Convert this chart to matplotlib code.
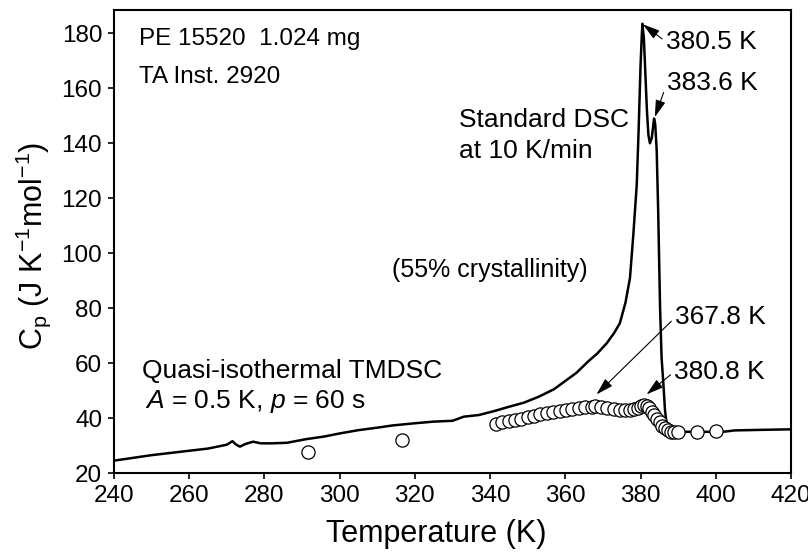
import matplotlib
matplotlib.use("Agg")
import matplotlib.pyplot as plt

plt.rcParams["font.family"] = ["Liberation Sans", "DejaVu Sans"]
plt.rcParams["mathtext.fontset"] = "custom"
plt.rcParams["mathtext.rm"] = "Liberation Sans"
plt.rcParams["mathtext.it"] = "Liberation Sans:italic"

# standard DSC trace, 10 K/min
dsc_T = [240.0, 245.0, 250.0, 255.0, 260.0, 265.0, 270.0, 271.5, 272.5, 273.5,
         275.0, 277.0, 279.0, 282.0, 286.0, 291.0, 296.0, 300.0, 305.0, 310.0,
         314.0, 320.0, 325.0, 330.0, 333.0, 337.0, 341.0, 344.5, 349.0, 353.0,
         357.0, 360.0, 363.0, 366.0, 368.5, 371.0, 373.0, 374.5, 376.0, 377.2,
         378.1, 379.0, 379.5, 380.0, 380.3, 380.5, 380.9, 381.3, 381.7, 382.1,
         382.5, 383.0, 383.6, 383.9, 384.3, 384.7, 385.2, 385.6, 386.1, 386.5,
         387.0, 387.5, 388.5, 392.0, 402.0, 405.0, 412.0, 420.0]
dsc_cp = [24.5, 25.5, 26.5, 27.3, 28.1, 28.9, 30.3, 31.6, 30.3, 29.6,
          30.6, 31.4, 30.8, 30.8, 31.0, 32.3, 33.3, 34.4, 35.6, 36.5,
          37.3, 38.1, 38.7, 39.0, 40.5, 41.1, 42.5, 43.9, 45.6, 47.8,
          50.5, 53.5, 56.5, 60.5, 63.5, 67.2, 71.0, 74.5, 82.0, 91.0,
          107.0, 125.0, 145.0, 168.0, 178.0, 183.5, 178.0, 165.0, 152.0, 143.0,
          140.0, 142.0, 149.0, 147.0, 137.5, 115.0, 80.0, 62.0, 52.0, 43.0,
          37.0, 35.2, 34.8, 35.0, 35.0, 35.5, 35.7, 35.9]

# quasi-isothermal TMDSC points
tm_T = [291.5, 316.5, 341.5, 343.2, 344.9, 346.6, 348.3, 350.0, 351.7, 353.4,
        355.1, 356.8, 358.5, 360.2, 361.9, 363.6, 365.3, 367.0, 367.8, 369.5,
        371.2, 372.9, 374.6, 376.0, 377.2, 378.3, 379.2, 380.0, 380.8, 381.6,
        382.3, 383.0, 383.7, 384.4, 385.1, 385.8, 386.5, 387.2, 388.0, 389.0,
        390.0, 395.0, 400.0]
tm_cp = [27.8, 32.0, 38.0, 38.4, 38.8, 39.3, 39.8, 40.3, 40.8, 41.3,
         41.8, 42.2, 42.6, 43.0, 43.4, 43.8, 44.0, 44.2, 44.3, 44.1,
         43.7, 43.3, 43.0, 42.9, 43.0, 43.3, 43.8, 44.4, 44.8, 44.4,
         43.5, 42.3, 41.0, 39.7, 38.4, 37.2, 36.2, 35.5, 35.0, 34.8,
         34.8, 34.9, 35.4]

# (label, arrow tip, text position)
peak_notes = [
    ("380.5 K", (380.6, 183.3), (386.8, 176.9)),
    ("383.6 K", (383.8, 149.5), (387.0, 161.8)),
    ("367.8 K", (368.3, 48.6), (389.2, 76.6)),
    ("380.8 K", (381.6, 48.6), (389.0, 56.9)),
]

fig = plt.figure(figsize=(8.08, 5.52), dpi=100)
ax = fig.add_axes([0.1411, 0.1431, 0.8378, 0.8388])

ax.plot(dsc_T, dsc_cp, color="black", lw=1.8, zorder=2)
ax.plot(tm_T, tm_cp, "o", ms=9.5, mfc="white", mec="black", mew=0.9, zorder=3)

ax.set_xlim(240, 420)
ax.set_ylim(20, 188.5)
ax.set_xticks(range(240, 421, 20))
ax.set_yticks(range(20, 181, 20))
ax.tick_params(direction="out", length=4.5, width=1.2, labelsize=17.5, pad=4)
for sp in ax.spines.values():
    sp.set_linewidth(1.5)

ax.set_xlabel("Temperature (K)", fontsize=22)
ax.xaxis.set_label_coords(0.476, -0.1)
ax.set_ylabel(r"C$_\mathregular{p}$ (J K$^\mathregular{-1}$mol$^\mathregular{-1}$)", fontsize=22)
ax.yaxis.set_label_coords(-0.09, 0.49)

fs = 19
ax.text(246.6, 175.8, "PE 15520  1.024 mg", fontsize=17.5, va="baseline")
ax.text(246.6, 162.0, "TA Inst. 2920", fontsize=17.5, va="baseline")
ax.text(331.8, 145.8, "Standard DSC", fontsize=fs, va="baseline")
ax.text(331.8, 134.5, "at 10 K/min", fontsize=fs, va="baseline")
ax.text(314.0, 91.5, "(55% crystallinity)", fontsize=18, va="baseline")
ax.text(247.4, 54.5, "Quasi-isothermal TMDSC", fontsize=fs, va="baseline")
ax.text(248.2, 43.5, r"$A$ = 0.5 K, $p$ = 60 s", fontsize=fs, va="baseline")

for label, tip, pos in peak_notes:
    ax.annotate(label, xy=tip, xytext=pos, fontsize=fs, ha="left", va="center",
                arrowprops=dict(arrowstyle="-|>,head_length=0.55,head_width=0.16",
                                color="black", lw=0.8, relpos=(0, 0.5),
                                shrinkA=1, shrinkB=0))

fig.savefig("out.png", dpi=100)
